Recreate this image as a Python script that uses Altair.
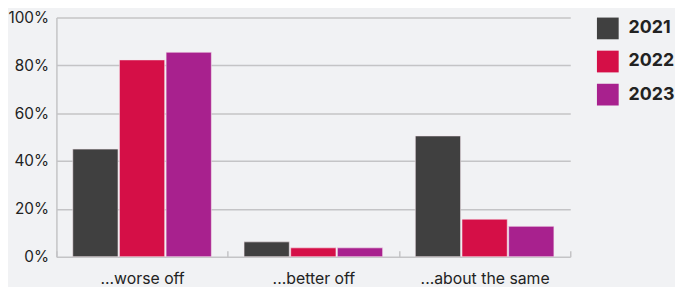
import altair as alt
import pandas as pd

categories = ["...worse off", "...better off", "...about the same"]
years = ["2021", "2022", "2023"]
values_2021 = [45, 6.2, 50.5]
values_2022 = [82.3, 3.7, 15.7]
values_2023 = [85.5, 3.7, 12.7]
colors = ["#404040", "#d50f47", "#a8218e"]

rows = []
for yr, vals in zip(years, [values_2021, values_2022, values_2023]):
    for c, v in zip(categories, vals):
        rows.append({"category": c, "year": yr, "value": v / 100})
df = pd.DataFrame(rows)

FONT = "Inter"

chart = alt.Chart(df).mark_bar(stroke="#f4e8ee", strokeWidth=0.6).encode(
    x=alt.X("category:N", sort=categories, title=None,
            scale=alt.Scale(paddingInner=0, paddingOuter=0),
            axis=alt.Axis(labelAngle=0, tickBand="extent", domain=False,
                          ticks=True, tickSize=6, tickColor="#c4c4c6", tickWidth=1.5,
                          offset=-6, labelPadding=27, labelBaseline="alphabetic",
                          labelFontSize=16,
                          labelColor="#222222", labelFont=FONT)),
    xOffset=alt.XOffset("year:N", sort=years,
                        scale=alt.Scale(paddingInner=0.03, paddingOuter=0.35)),
    y=alt.Y("value:Q", title=None,
            scale=alt.Scale(domain=[0, 1], nice=False),
            axis=alt.Axis(format="%", values=[0, 0.2, 0.4, 0.6, 0.8, 1.0],
                          ticks=False, domain=True, domainColor="#c4c4c6",
                          domainWidth=1.5, grid=True, gridColor="#c4c4c6",
                          gridWidth=1.5, labelPadding=8, labelFontSize=15.5,
                          labelColor="#222222", labelFont=FONT)),
    color=alt.Color("year:N", sort=years,
                    scale=alt.Scale(domain=years, range=colors),
                    legend=alt.Legend(title=None, orient="none", legendX=547,
                                      legendY=0, padding=0, symbolType="square",
                                      symbolSize=484, symbolStrokeWidth=0,
                                      symbolOpacity=1, rowPadding=11.5,
                                      labelFontSize=18, labelFontWeight="bold",
                                      labelFont=FONT, labelColor="#222222",
                                      labelOffset=10)),
).properties(
    width=520, height=242,
    background="#f1f2f4",
    padding={"left": 49, "top": 8, "right": 106, "bottom": 29},
    autosize=alt.AutoSizeParams(type="none"),
).configure_view(stroke=None)

chart.save("out.html", embed_options={"renderer": "svg", "actions": False})
